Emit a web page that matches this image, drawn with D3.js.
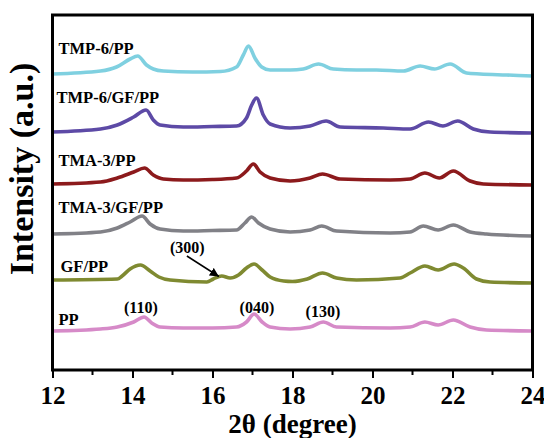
<!DOCTYPE html>
<html>
<head>
<meta charset="utf-8">
<script src="https://cdn.jsdelivr.net/npm/d3@7"></script>
<style>
  body { margin: 0; background: #fff; }
  svg text { font-family: "Liberation Serif", "Times New Roman", "DejaVu Serif", serif; font-weight: bold; }
</style>
</head>
<body>
<script>
"use strict";

// 2theta / intensity, one pair of arrays per pattern (a.u., already stacked)
const ppTheta = [12.0, 13.2, 13.62, 14.03, 14.29, 14.48, 14.69, 15.27, 16.0, 16.6, 16.85, 17.04, 17.24, 17.44, 17.94, 18.44, 18.77, 19.1, 20.44, 20.94, 21.31, 21.64, 22.02, 22.44, 22.85, 24.0]
const ppInt = [39, 41, 43, 48, 53, 47, 43, 42, 42, 43, 48, 56, 48, 43, 41, 43, 48, 43, 42, 43, 48, 45, 50, 43, 40, 39]

const gfTheta = [12.0, 13.62, 13.74, 13.94, 14.2, 14.44, 14.66, 14.94, 15.86, 16.02, 16.23, 16.44, 16.65, 16.85, 17.04, 17.24, 17.44, 17.78, 18.0, 18.37, 18.75, 19.1, 19.6, 20.69, 20.94, 21.31, 21.64, 22.04, 22.27, 22.6, 22.94, 24.0]
const gfInt = [90, 91, 94, 101, 105, 99, 93, 90, 88, 91, 94, 92, 95, 102, 106, 100, 93, 89, 88.5, 91, 97, 92, 90, 92, 97, 104, 100, 106, 102, 91, 88, 87]

const tma3gfTheta = [12.0, 13.2, 13.62, 13.94, 14.24, 14.44, 14.69, 15.27, 16.0, 16.6, 16.81, 16.98, 17.15, 17.44, 17.94, 18.44, 18.73, 19.1, 20.44, 20.94, 21.27, 21.64, 22.02, 22.44, 22.85, 24.0]
const tma3gfInt = [136, 138, 142, 148, 154, 146, 141, 139, 139.5, 140, 147, 153, 147, 141, 138, 140, 144, 139, 137, 138, 144, 140, 145, 138, 136, 134]

const tma3Theta = [12.0, 13.2, 13.62, 14.03, 14.3, 14.52, 14.77, 15.27, 16.0, 16.6, 16.85, 17.02, 17.19, 17.44, 17.94, 18.44, 18.75, 19.19, 20.44, 20.94, 21.31, 21.67, 22.02, 22.44, 22.77, 24.0]
const tma3Int = [186, 188, 192, 198, 202, 195, 191, 190, 190.5, 192, 199, 206, 198, 192, 189, 192, 196, 191, 190, 191, 197, 192, 199, 189, 186, 185]

const tmp6gfTheta = [12.0, 13.2, 13.62, 14.03, 14.34, 14.52, 14.69, 15.27, 16.0, 16.6, 16.85, 16.98, 17.1, 17.27, 17.44, 17.94, 18.44, 18.84, 19.19, 20.27, 20.94, 21.4, 21.76, 22.13, 22.52, 22.94, 24.0]
const tmp6gfInt = [238, 241, 245, 253, 260, 250, 245, 243, 243.5, 244, 252, 265, 272, 255, 246, 242, 244, 249, 243, 242, 241, 248, 244, 249, 241, 238, 237]

const tmp6Theta = [12.0, 13.2, 13.6, 13.94, 14.13, 14.35, 14.52, 14.77, 15.5, 16.2, 16.6, 16.77, 16.9, 17.06, 17.23, 17.44, 17.94, 18.27, 18.65, 19.02, 19.6, 20.1, 20.77, 21.19, 21.55, 21.94, 22.35, 22.69, 23.35, 24.0]
const tmp6Int = [296, 299, 303, 311, 314, 305, 301, 299, 298, 298.5, 303, 315, 324, 312, 303, 300, 300, 301, 306, 301, 300, 300, 299, 304, 301, 306, 297, 296, 295, 294]

const names = ["PP", "GF/PP", "TMA-3/GF/PP", "TMA-3/PP", "TMP-6/GF/PP", "TMP-6/PP"]
const colors = ["#d68ac8", "#7f8a31", "#818187", "#8c1a1c", "#5d4aa6", "#7fd0e0"]
const thetas = [ppTheta, gfTheta, tma3gfTheta, tma3Theta, tmp6gfTheta, tmp6Theta]
const ints = [ppInt, gfInt, tma3gfInt, tma3Int, tmp6gfInt, tmp6Int]

const xTicks = [12, 14, 16, 18, 20, 22, 24]
const minorTicks = [13, 15, 17, 19, 21, 23]

// label anchors in data units (2theta, a.u.)
const labelAt = [[12.15, 45], [12.2, 98.5], [12.15, 157], [12.15, 204], [12.1, 267], [12.15, 316.5]]
const peaks = ["(110)", "(040)", "(130)", "(300)"]
const peakAt = [[14.21, 57], [17.11, 57], [18.76, 53.5], [15.37, 117]]

const W = 544, H = 438
const margin = { top: 15, right: 11.5, bottom: 68, left: 52.5 }

const svg = d3.select("body").append("svg")
    .attr("width", W)
    .attr("height", H)

const x = d3.scaleLinear().domain([12, 24]).range([margin.left, W - margin.right])
const y = d3.scaleLinear().domain([0, 355]).range([H - margin.bottom, margin.top])

const line = d3.line()
    .x(d => x(d[0]))
    .y(d => y(d[1]))
    .curve(d3.curveMonotoneX)

names.forEach((name, i) => {
    const pts = thetas[i].map((t, j) => [t, ints[i][j]])
    svg.append("path")
        .datum(pts)
        .attr("fill", "none")
        .attr("stroke", colors[i])
        .attr("stroke-width", 3.6)
        .attr("stroke-linejoin", "round")
        .attr("d", line)

    svg.append("text")
        .attr("x", x(labelAt[i][0]))
        .attr("y", y(labelAt[i][1]))
        .style("font-size", "16.5px")
        .text(name)
})

// peak indices
peaks.forEach((p, i) => {
    svg.append("text")
        .attr("x", x(peakAt[i][0]))
        .attr("y", y(peakAt[i][1]))
        .attr("text-anchor", "middle")
        .style("font-size", "16px")
        .text(p)
})

// arrow to the beta (300) reflection
svg.append("defs").append("marker")
    .attr("id", "head")
    .attr("viewBox", "0 0 10 10")
    .attr("refX", 10).attr("refY", 5)
    .attr("markerWidth", 9).attr("markerHeight", 9)
    .attr("markerUnits", "userSpaceOnUse")
    .attr("orient", "auto")
  .append("path")
    .attr("d", "M0,0L10,5L0,10z")
    .attr("fill", "#000")

svg.append("line")
    .attr("x1", x(15.36)).attr("y1", y(114))
    .attr("x2", x(16.16)).attr("y2", y(93.5))
    .attr("stroke", "#000")
    .attr("stroke-width", 1.5)
    .attr("marker-end", "url(#head)")

// frame
svg.append("rect")
    .attr("x", margin.left)
    .attr("y", margin.top)
    .attr("width", W - margin.left - margin.right)
    .attr("height", H - margin.top - margin.bottom)
    .attr("fill", "none")
    .attr("stroke", "#000")
    .attr("stroke-width", 3)

const xAxis = svg.append("g")
    .attr("transform", `translate(0,${H - margin.bottom})`)
    .call(d3.axisBottom(x).tickValues(xTicks).tickFormat(d3.format("d")).tickSize(8).tickPadding(8))
xAxis.select(".domain").remove()
xAxis.selectAll(".tick line").attr("stroke-width", 2)
xAxis.selectAll(".tick text")
    .attr("fill", "#000")
    .style("font-size", "25px")
    .style("font-family", "\"Liberation Serif\", \"Times New Roman\", serif")
    .style("font-weight", "bold")

svg.append("g")
    .selectAll("line")
    .data(minorTicks)
    .join("line")
    .attr("x1", d => x(d)).attr("x2", d => x(d))
    .attr("y1", H - margin.bottom).attr("y2", H - margin.bottom + 5)
    .attr("stroke", "#000")
    .attr("stroke-width", 2)

svg.append("text")
    .attr("x", (margin.left + W - margin.right) / 2)
    .attr("y", 433)
    .attr("text-anchor", "middle")
    .style("font-size", "27px")
    .text("2θ (degree)")

svg.append("text")
    .attr("transform", "translate(33,169) rotate(-90)")
    .attr("text-anchor", "middle")
    .style("font-size", "34px")
    .text("Intensity (a.u.)")
</script>
</body>
</html>
